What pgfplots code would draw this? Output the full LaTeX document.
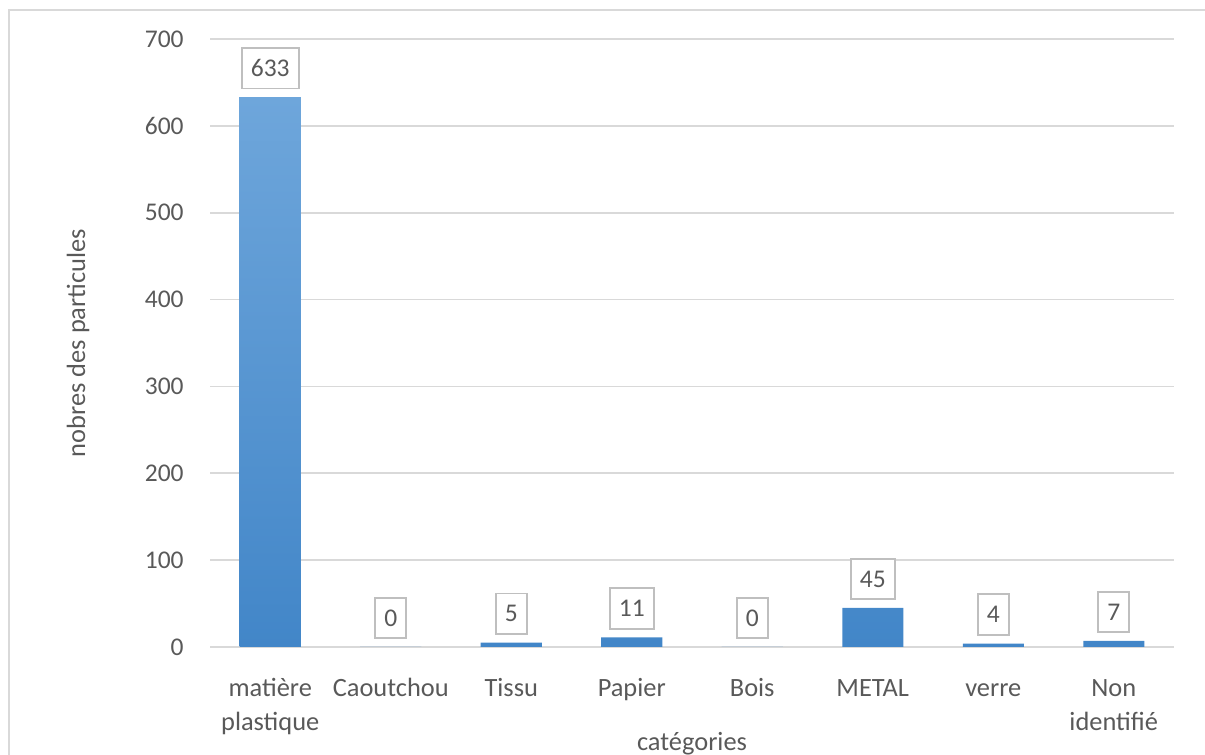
\documentclass[border=0pt]{standalone}
\usepackage{pgfplots}
\pgfplotsset{compat=1.18}
\usepackage{fontspec}
\setmainfont{Carlito}
\definecolor{txt}{HTML}{595959}
\definecolor{gridc}{HTML}{D9D9D9}
\definecolor{boxc}{HTML}{BFBFBF}
\definecolor{bartop}{HTML}{6EA6DB}
\definecolor{barbot}{HTML}{4286C8}
\newcommand\two[2]{\vtop{\halign{\hfil##\hfil\cr#1\cr#2\cr}}}
\begin{document}
\begin{tikzpicture}
\path[use as bounding box] (0,0) rectangle (602.5pt,377.5pt);
\draw[gridc, line width=0.9pt] (4.5pt,-10pt) -- (4.5pt,372.5pt) -- (620pt,372.5pt);
\begin{axis}[
  at={(105pt,54pt)}, anchor=south west,
  scale only axis, width=482pt, height=304pt,
  xmin=-0.5, xmax=7.5, ymin=0, ymax=700,
  ytick={0,100,...,700},
  xtick={0,...,7},
  xticklabels={{\two{matière}{plastique}},Caoutchou,Tissu,Papier,Bois,METAL,verre,{\two{Non}{identifié}}},
  /pgf/number format/assume math mode=true,
  axis line style={draw=none},
  major tick length=0pt,
  ymajorgrids, grid style={draw=gridc, line width=0.8pt},
  yticklabel style={font=\fontsize{12.75}{17}\selectfont, text=txt, anchor=east, inner sep=0pt, xshift=-13pt},
  xticklabel style={font=\fontsize{13.2}{17}\selectfont, text=txt, anchor=base, yshift=-25pt, inner sep=0pt},
  ylabel={nobres des particules},
  ylabel style={at={(axis description cs:0,0.5)}, anchor=center, yshift=66pt, font=\fontsize{13.2}{15}\selectfont, text=txt},
  xlabel={catégories},
  xlabel style={at={(axis description cs:0.5,0)}, anchor=base, yshift=-52pt, font=\fontsize{13.2}{15}\selectfont, text=txt},
  ybar, bar width=30.5pt,
  nodes near coords,
  every node near coord/.append style={draw=boxc, line width=0.9pt, fill=white, text=txt,
     inner xsep=4.5pt, inner ysep=0pt, minimum height=20.3pt, outer sep=0pt,
     anchor=south, yshift=4.3pt, font=\fontsize{12.75}{15}\selectfont},
]
\addplot[draw=none, top color=bartop, bottom color=barbot] coordinates {
  (0,633) (1,0) (2,5) (3,11) (4,0) (5,45) (6,4) (7,7)
};
\end{axis}
\end{tikzpicture}
\end{document}
